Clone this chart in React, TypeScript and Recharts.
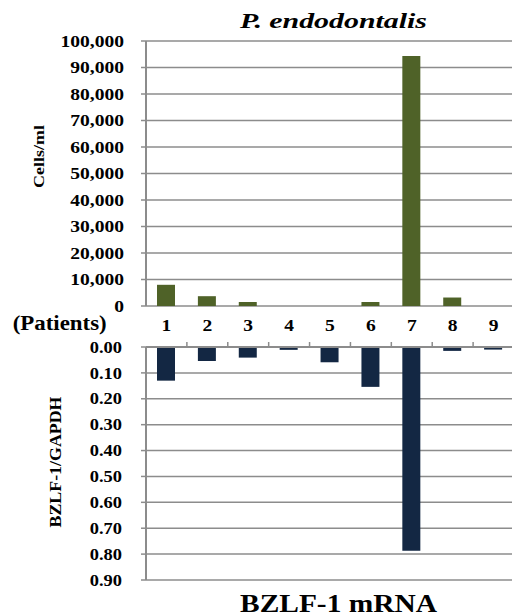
import React from "react";
import { BarChart, Bar, XAxis, YAxis, CartesianGrid } from "recharts";

// patients 1..9
const patients = ["1", "2", "3", "4", "5", "6", "7", "8", "9"];
// P. endodontalis cells/ml
const cells = [8000, 3700, 1500, 0, 0, 1500, 94300, 3200, 0];
// BZLF-1 mRNA relative to GAPDH
const bzlf = [0.13, 0.054, 0.041, 0.011, 0.059, 0.154, 0.787, 0.015, 0.01];

const cellTicks = [0, 10000, 20000, 30000, 40000, 50000, 60000, 70000, 80000, 90000, 100000];
const bzlfTicks = [0, 0.1, 0.2, 0.3, 0.4, 0.5, 0.6, 0.7, 0.8, 0.9];

const GRID = "#8c8c8c";
const SX = 1.15; // the source figure is stretched horizontally
const BAND = 368 / 9;
const FONT = "Liberation Serif, DejaVu Serif, serif";

const topData = patients.map((p, i) => ({ patient: p, cells: cells[i] }));
const bottomData = patients.map((p, i) => ({ patient: p, bzlf: bzlf[i] }));

function YTick(props: any) {
  const { x, y, payload, size, fmt } = props;
  return (
    <text
      transform={`translate(${x},${y}) scale(${SX},1)`}
      textAnchor="end"
      dy="0.35em"
      fontWeight="bold"
      fill="#000"
      style={{ fontFamily: FONT, fontSize: size }}
    >
      {fmt(payload.value)}
    </text>
  );
}

function XTick(props: any) {
  const { x, y, payload } = props;
  const axisY = y + 22;
  return (
    <g>
      <text
        transform={`translate(${x},${y}) scale(${SX},1)`}
        textAnchor="middle"
        dy="0.35em"
        fontWeight="bold"
        fill="#000"
        style={{ fontFamily: FONT, fontSize: 17 }}
      >
        {payload.value}
      </text>
      <line x1={x + BAND / 2} x2={x + BAND / 2} y1={axisY} y2={axisY - 5} stroke={GRID} strokeWidth={1.5} />
    </g>
  );
}

function Txt({ x, y, len, size, italic, rotate, children }: any) {
  return (
    <text
      x={x}
      y={y}
      textAnchor="middle"
      textLength={len}
      lengthAdjust="spacingAndGlyphs"
      fontWeight="bold"
      fill="#000"
      style={{ fontFamily: FONT, fontSize: size, fontStyle: italic ? "italic" : "normal" }}
      transform={rotate ? `rotate(-90 ${x} ${y})` : undefined}
      dominantBaseline={rotate ? "central" : undefined}
    >
      {children}
    </text>
  );
}

export default function App() {
  return (
    <div
      style={{
        position: "absolute",
        left: 0,
        top: 0,
        width: 512,
        height: 616,
        overflow: "hidden",
        background: "#fff",
        fontFamily: FONT,
      }}
    >
      <div style={{ position: "absolute", left: 0, top: 0 }}>
        <BarChart width={514} height={320} data={topData} margin={{ top: 41, right: 0, left: 0, bottom: 14 }}>
          <CartesianGrid vertical={false} stroke={GRID} strokeWidth={1.5} />
          <XAxis dataKey="patient" hide />
          <YAxis
            width={146}
            domain={[0, 100000]}
            ticks={cellTicks}
            interval={0}
            axisLine={{ stroke: GRID, strokeWidth: 2 }}
            tickLine={{ stroke: GRID, strokeWidth: 1.5 }}
            tickSize={5}
            tickMargin={17}
            tick={(p: any) => <YTick {...p} size={17} fmt={(v: number) => v.toLocaleString("en-US")} />}
          />
          <Bar dataKey="cells" fill="#4F6228" barSize={18} isAnimationActive={false} />
        </BarChart>
      </div>

      <div style={{ position: "absolute", left: 0, top: 300 }}>
        <BarChart width={514} height={296} data={bottomData} margin={{ top: 0, right: 0, left: 0, bottom: 16 }}>
          <CartesianGrid vertical={false} stroke={GRID} strokeWidth={1.5} />
          <XAxis
            dataKey="patient"
            orientation="top"
            height={47}
            axisLine={{ stroke: GRID, strokeWidth: 2 }}
            tickLine={false}
            tickSize={5}
            tickMargin={17}
            interval={0}
            tick={(p: any) => <XTick {...p} />}
          />
          <YAxis
            width={146}
            reversed
            domain={[0, 0.9]}
            ticks={bzlfTicks}
            interval={0}
            axisLine={{ stroke: GRID, strokeWidth: 2 }}
            tickLine={{ stroke: GRID, strokeWidth: 1.5 }}
            tickSize={5}
            tickMargin={19}
            tick={(p: any) => <YTick {...p} size={16} fmt={(v: number) => v.toFixed(2)} />}
          />
          <Bar dataKey="bzlf" fill="#132743" barSize={18} isAnimationActive={false} />
        </BarChart>
      </div>

      <svg width={512} height={616} style={{ position: "absolute", left: 0, top: 0, pointerEvents: "none" }}>
        <Txt x={333.5} y={28} len={187} size={22} italic>
          P. endodontalis
        </Txt>
        <Txt x={38.5} y={156.5} len={63} size={15} rotate>
          Cells/ml
        </Txt>
        <Txt x={59.7} y={330} len={94} size={20}>
          (Patients)
        </Txt>
        <Txt x={55} y={462} len={131} size={17} rotate>
          BZLF-1/GAPDH
        </Txt>
        <Txt x={338.5} y={611.5} len={197} size={25}>
          BZLF-1 mRNA
        </Txt>
      </svg>
    </div>
  );
}
